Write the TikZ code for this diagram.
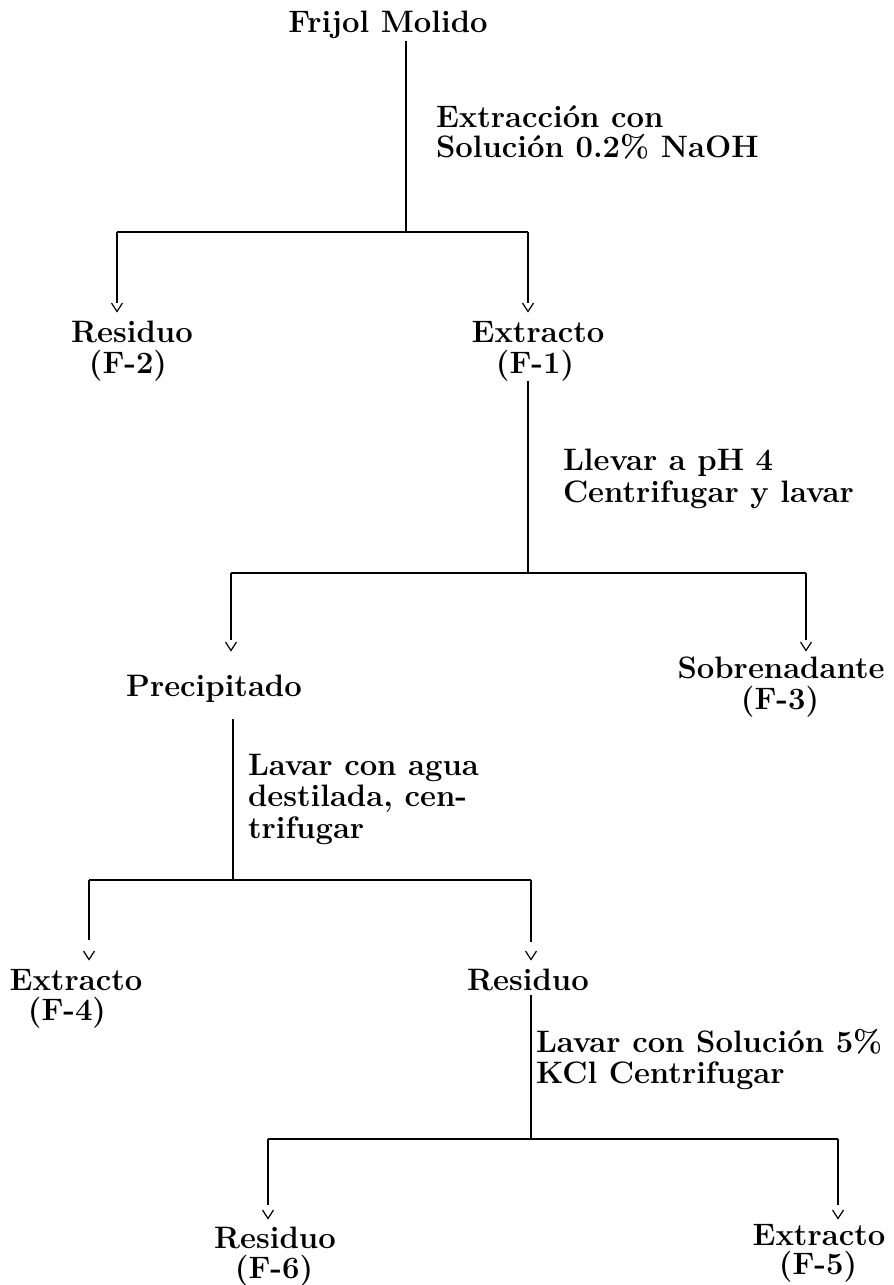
\documentclass[tikz,border=0pt]{standalone}
\usepackage{fontspec}
\begin{document}
\begin{tikzpicture}[x=1pt,y=-1pt,
  every node/.style={inner sep=0pt,outer sep=0pt,font=\fontsize{31}{31}\selectfont\bfseries},
  txt/.style={anchor=base},
  lbl/.style={anchor=base west},
  conn/.style={line width=1.4pt},
  vhead/.pic={\draw[line width=1.2pt,line join=miter] (-5.5,0) -- (0,8.5) -- (5.5,0);}
]
\useasboundingbox (0,0) rectangle (894,1285);

% ---- texts ----
\node[txt] (frijol) at (388,32) {Frijol Molido};
\node[lbl] (l1a) at (436,127) {Extracción con};
\node[lbl] (l1b) at (436,157) {Solución 0.2\% NaOH};
\node[txt] (res2) at (132,342) {Residuo};
\node[txt] (f2) at (128,373) {(F-2)};
\node[txt] (ext1) at (538,342) {Extracto};
\node[txt] (f1) at (535,373) {(F-1)};
\node[lbl] (l2a) at (563,470) {Llevar a pH 4};
\node[lbl] (l2b) at (563,502) {Centrifugar y lavar};
\node[txt] (prec) at (214,696) {Precipitado};
\node[txt] (sobr) at (781,678) {Sobrenadante};
\node[txt] (f3) at (780,709) {(F-3)};
\node[lbl] (l3a) at (248,775) {Lavar con agua};
\node[lbl] (l3b) at (248,806) {destilada, cen-};
\node[lbl] (l3c) at (248,838) {trifugar};
\node[txt] (ext4) at (76,990) {Extracto};
\node[txt] (f4) at (67,1020) {(F-4)};
\node[txt] (res) at (528,990) {Residuo};
\node[lbl] (l4a) at (536,1052) {Lavar con Solución 5\%};
\node[lbl] (l4b) at (536,1083) {KCl Centrifugar};
\node[txt] (res6) at (275,1248) {Residuo};
\node[txt] (f6) at (274,1278) {(F-6)};
\node[txt] (ext5) at (819,1245) {Extracto};
\node[txt] (f5) at (818,1274) {(F-5)};

% ---- level 1 ----
\coordinate (j1) at (406,232);
\coordinate (h1l) at (117,232);
\coordinate (h1r) at (528,232);
\coordinate (d1l) at (117,303);
\coordinate (d1r) at (528,303);
\draw[conn,shorten <=3pt] (frijol.south -| j1) -- (j1);
\draw[conn] (h1l) -- (h1r);
\draw[conn] (h1l) -- (d1l);
\draw[conn] (h1r) -- (d1r);
\pic at (d1l) {vhead};
\pic at (d1r) {vhead};

% ---- level 2 ----
\coordinate (j2) at (528,573);
\coordinate (h2l) at (231,573);
\coordinate (h2r) at (806,573);
\coordinate (d2l) at (231,640);
\coordinate (d2r) at (806,640);
\draw[conn] (f1.south -| j2) -- (j2);
\draw[conn] (h2l) -- (h2r);
\draw[conn] (h2l) -- (d2l);
\draw[conn] (h2r) -- (d2r);
\pic at (231,642) {vhead};
\pic at (806,642) {vhead};

% ---- level 3 ----
\coordinate (j3) at (233,880);
\coordinate (h3l) at (89,880);
\coordinate (h3r) at (531,880);
\coordinate (d3l) at (89,940);
\coordinate (d3r) at (531,942);
\draw[conn,shorten <=17pt] (prec.south -| j3) -- (j3);
\draw[conn] (h3l) -- (h3r);
\draw[conn] (h3l) -- (d3l);
\draw[conn] (h3r) -- (d3r);
\pic at (89,951) {vhead};
\pic at (531,951) {vhead};

% ---- level 4 ----
\coordinate (j4) at (531,1139);
\coordinate (h4l) at (268,1139);
\coordinate (h4r) at (838,1139);
\coordinate (d4l) at (268,1205);
\coordinate (d4r) at (838,1205);
\draw[conn,shorten <=5pt] (res.south -| j4) -- (j4);
\draw[conn] (h4l) -- (h4r);
\draw[conn] (h4l) -- (d4l);
\draw[conn] (h4r) -- (d4r);
\pic at (268,1210) {vhead};
\pic at (838,1210) {vhead};
\end{tikzpicture}
\end{document}
